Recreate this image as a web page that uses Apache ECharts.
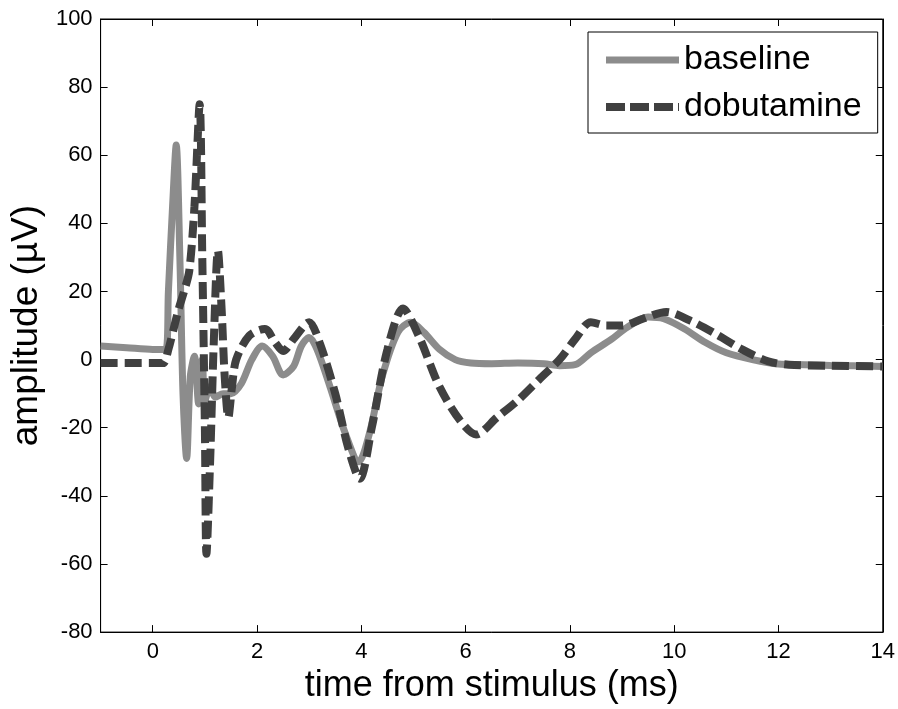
<!DOCTYPE html>
<html>
<head>
<meta charset="utf-8">
<script src="https://cdn.jsdelivr.net/npm/echarts@6/dist/echarts.min.js"></script>
<style>
html,body{margin:0;padding:0;background:#fff;}
#chart{width:898px;height:709px;}
</style>
</head>
<body>
<div id="chart"></div>
<script>
// time from stimulus (ms) and amplitude (µV)
var baselineX = [-1, -0.5, 0, 0.25, 0.3, 0.38, 0.45, 0.52, 0.58, 0.65, 0.72, 0.8, 0.88, 0.95, 1.0, 1.1, 1.2, 1.35, 1.5, 1.7, 1.9, 2.1, 2.3, 2.5, 2.7, 2.85, 3.0, 3.15, 3.4, 3.7, 3.95, 4.15, 4.4, 4.7, 4.95, 5.2, 5.5, 5.8, 6.1, 6.5, 7.0, 7.5, 7.8, 8.1, 8.4, 8.8, 9.1, 9.5, 9.8, 10.2, 10.6, 11.0, 11.5, 12.0, 12.5, 13, 14];
var baselineY = [4, 3.5, 3, 3, 20, 45, 63, 30, -10, -29, -5, 1, -13, 0, -12, -8, -11, -10, -10, -7, 0, 4, 1, -4.5, -2, 4, 6.5, 3, -8, -22, -30, -22, -5, 8, 11, 8, 3, 0, -1, -1.2, -1, -1.2, -1.8, -1.5, 2, 6, 9.5, 12.5, 12, 9, 5, 2, 0, -1.3, -1.5, -1.7, -2];
var dobutX = [-1, -0.5, 0, 0.2, 0.3, 0.4, 0.5, 0.6, 0.7, 0.8, 0.9, 0.95, 1.0, 1.03, 1.1, 1.17, 1.25, 1.32, 1.38, 1.45, 1.52, 1.6, 1.85, 2.15, 2.35, 2.5, 2.7, 3.0, 3.2, 3.5, 3.75, 3.97, 4.2, 4.5, 4.8, 5.1, 5.5, 5.9, 6.2, 6.6, 7.0, 7.4, 7.8, 8.1, 8.4, 8.7, 9.0, 9.4, 9.85, 10.3, 10.8, 11.3, 11.8, 12.2, 13, 14];
var dobutY = [-1, -1, -1, -1, 3, 9, 15, 20, 26, 45, 75, 30, -20, -57, -30, 5, 32, 15, -5, -17, -8, 0, 7, 9, 5, 2.5, 6, 11, 5, -10, -26, -35, -20, 3, 15, 7, -8, -18, -22, -17, -12, -6, 0, 6, 11, 10, 10, 12, 14, 11.5, 7.5, 3, -0.5, -1.5, -1.8, -2];
var seriesNames = ['baseline', 'dobutamine'];
var xTitle = 'time from stimulus (ms)';
var yTitle = 'amplitude (\u00b5V)';

function pairs(xs, ys) {
  return xs.map(function (x, i) { return [x, ys[i]]; });
}

var tickFont = "'Liberation Sans', Arial, sans-serif";
var mainFont = "'Liberation Sans', Arial, sans-serif";
var grayColor = '#8c8c8c';
var darkColor = '#404040';

var chart = echarts.init(document.getElementById('chart'), null, {renderer: 'canvas'});
var axisLineStyle = {color: '#000', width: 1};
chart.setOption({
  animation: false,
  backgroundColor: '#fff',
  grid: {left: 99, right: 12, top: 19, bottom: 56, show: true, borderColor: '#000', borderWidth: 1, backgroundColor: 'transparent'},
  legend: {
    orient: 'vertical',
    left: 588,
    top: 32,
    padding: [11, 16, 9, 14],
    itemGap: 13,
    itemWidth: 73,
    itemHeight: 10,
    borderColor: '#000',
    borderWidth: 1,
    backgroundColor: '#fff',
    itemStyle: {opacity: 0},
    textStyle: {fontFamily: mainFont, fontSize: 34, color: '#000', padding: [0, 0, 0, 0]},
    data: [
      {name: seriesNames[0], lineStyle: {color: grayColor, width: 7, type: 'solid'}},
      {name: seriesNames[1], lineStyle: {color: darkColor, width: 8, type: [19, 5]}}
    ]
  },
  xAxis: [{
    type: 'value', min: -1, max: 14, splitNumber: 7,
    name: xTitle, nameLocation: 'middle', nameGap: 35,
    nameTextStyle: {fontFamily: mainFont, fontSize: 36, color: '#000'},
    axisLine: {show: true, onZero: false, lineStyle: axisLineStyle},
    axisTick: {show: true, inside: true, length: 7, lineStyle: axisLineStyle},
    axisLabel: {showMinLabel: false, margin: 9, fontFamily: tickFont, fontSize: 22, color: '#000'},
    splitLine: {show: false}
  }, {
    type: 'value', min: -1, max: 14, splitNumber: 7, position: 'top',
    axisLine: {show: true, onZero: false, lineStyle: axisLineStyle},
    axisTick: {show: true, inside: true, length: 7, lineStyle: axisLineStyle},
    axisLabel: {show: false},
    splitLine: {show: false}
  }],
  yAxis: [{
    type: 'value', min: -80, max: 100, interval: 20,
    name: yTitle, nameLocation: 'middle', nameGap: 52,
    nameTextStyle: {fontFamily: mainFont, fontSize: 37, color: '#000'},
    axisLine: {show: true, onZero: false, lineStyle: axisLineStyle},
    axisTick: {show: true, inside: true, length: 7, lineStyle: axisLineStyle},
    axisLabel: {margin: 8, fontFamily: tickFont, fontSize: 22, color: '#000'},
    splitLine: {show: false}
  }, {
    type: 'value', min: -80, max: 100, interval: 20, position: 'right',
    axisLine: {show: true, onZero: false, lineStyle: axisLineStyle},
    axisTick: {show: true, inside: true, length: 7, lineStyle: axisLineStyle},
    axisLabel: {show: false},
    splitLine: {show: false}
  }],
  series: [{
    name: seriesNames[0], type: 'line', symbol: 'none', smooth: 0.3,
    xAxisIndex: 0, yAxisIndex: 0,
    data: pairs(baselineX, baselineY),
    itemStyle: {color: grayColor},
    lineStyle: {color: grayColor, width: 7},
    z: 2
  }, {
    name: seriesNames[1], type: 'line', symbol: 'none', smooth: 0.3,
    xAxisIndex: 0, yAxisIndex: 0,
    data: pairs(dobutX, dobutY),
    itemStyle: {color: darkColor},
    lineStyle: {color: darkColor, width: 8, type: [17, 7]},
    z: 3
  }]
});
</script>
</body>
</html>
